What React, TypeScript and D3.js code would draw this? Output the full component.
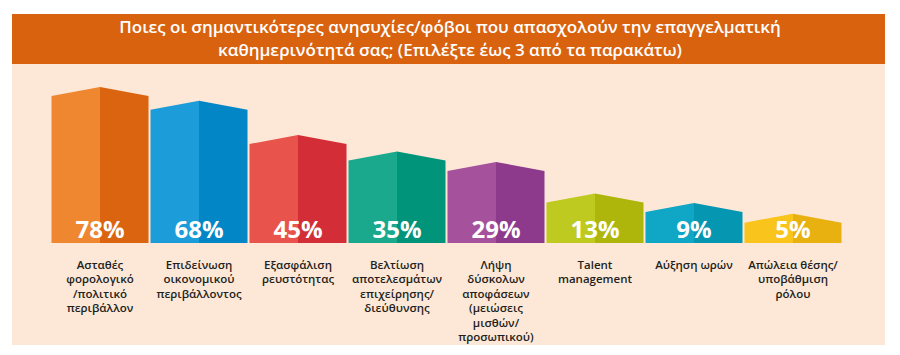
import React from "react";
import * as d3 from "d3";

const titleLines = [
  "Ποιες οι σημαντικότερες ανησυχίες/φόβοι που απασχολούν την επαγγελματική",
  "καθημερινότητά σας; (Επιλέξτε έως 3 από τα παρακάτω)",
];

const categories = [
  "Ασταθές φορολογικό /πολιτικό περιβάλλον",
  "Επιδείνωση οικονομικού περιβάλλοντος",
  "Εξασφάλιση ρευστότητας",
  "Βελτίωση αποτελεσμάτων επιχείρησης/ διεύθυνσης",
  "Λήψη δύσκολων αποφάσεων (μειώσεις μισθών/ προσωπικού)",
  "Talent management",
  "Αύξηση ωρών",
  "Απώλεια θέσης/ υποβάθμιση ρόλου",
];

const labelLines = [
  ["Ασταθές", "φορολογικό", "/πολιτικό", "περιβάλλον"],
  ["Επιδείνωση", "οικονομικού", "περιβάλλοντος"],
  ["Εξασφάλιση", "ρευστότητας"],
  ["Βελτίωση", "αποτελεσμάτων", "επιχείρησης/", "διεύθυνσης"],
  ["Λήψη", "δύσκολων", "αποφάσεων", "(μειώσεις", "μισθών/", "προσωπικού)"],
  ["Talent", "management"],
  ["Αύξηση ωρών"],
  ["Απώλεια θέσης/", "υποβάθμιση", "ρόλου"],
];

const values = [78, 68, 45, 35, 29, 13, 9, 5];

const lightColors = ["#EE8730", "#1C9CD8", "#E8534B", "#1BA98E", "#A6519B", "#BECA20", "#10A6C6", "#F9C41B"];
const darkColors = ["#DB6411", "#0386C6", "#D32D37", "#00957B", "#8D3A8D", "#AFB60B", "#0596B2", "#E8B10F"];

export default function App() {
  const W = 900;
  const H = 355;
  const baseY = 243;
  const roof = 9;

  const x = d3
    .scaleBand<string>()
    .domain(categories)
    .range([51.5, 841.5])
    .paddingInner(0.02)
    .paddingOuter(0);

  const h = d3.scalePow().exponent(0.72).domain([0, 78]).range([0, 147]);

  const font = "'Open Sans', 'Noto Sans', sans-serif";

  return (
    <svg
      width={W}
      height={H}
      style={{ position: "absolute", left: 0, top: 0, background: "#ffffff" }}
    >
      <rect x={12} y={64} width={873} height={281} fill="#FDE8D8" />
      <rect x={12} y={14} width={873} height={50} fill="#D9620F" />
      {titleLines.map((t, i) => (
        <text
          key={i}
          x={450}
          y={32.5 + i * 23.4}
          textAnchor="middle"
          fill="#ffffff"
          fontFamily={font}
          fontSize={17}
          fontWeight={600}
        >
          {t}
        </text>
      ))}
      {categories.map((c, i) => {
        const x0 = x(c) as number;
        const bw = x.bandwidth();
        const x1 = x0 + bw;
        const xc = x0 + bw / 2;
        const top = baseY - h(values[i]);
        const peak = top - roof;
        const left = `M${x0},${baseY}L${x0},${top}L${xc},${peak}L${xc},${baseY}Z`;
        const right = `M${xc},${baseY}L${xc},${peak}L${x1},${top}L${x1},${baseY}Z`;
        return (
          <g key={c}>
            <path d={left} fill={lightColors[i]} />
            <path d={right} fill={darkColors[i]} />
            <text
              x={xc}
              y={237.5}
              textAnchor="middle"
              fill="#ffffff"
              fontFamily={font}
              fontSize={24}
              fontWeight={700}
            >
              {values[i]}%
            </text>
            {labelLines[i].map((ln, j) => (
              <text
                key={j}
                x={xc}
                y={269 + j * 14.4}
                textAnchor="middle"
                fill="#231F20"
                fontFamily={font}
                fontSize={11.5}
                fontWeight={600}
              >
                {ln}
              </text>
            ))}
          </g>
        );
      })}
    </svg>
  );
}
